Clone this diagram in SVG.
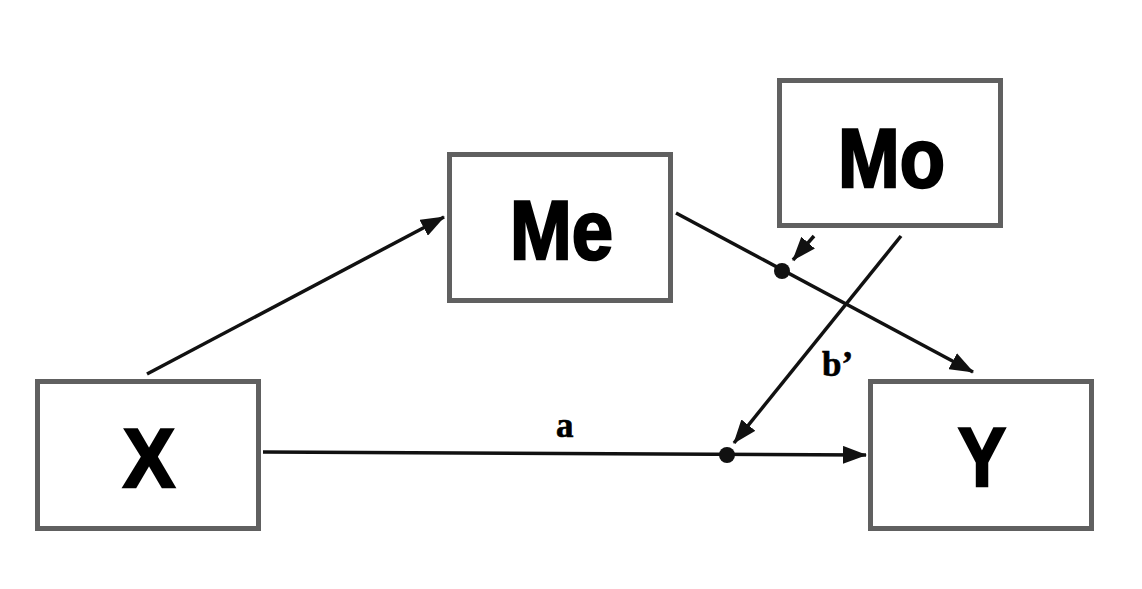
<svg xmlns="http://www.w3.org/2000/svg" width="1142" height="589" viewBox="0 0 1142 589">
<style>
.box{fill:#fff;stroke:#606060;stroke-width:5}
.big{font-family:"Liberation Sans",Arial,sans-serif;font-weight:bold;font-size:84px;fill:#000;stroke:#000;stroke-width:2.5}
.lbl{font-family:"Liberation Serif","Times New Roman",serif;font-weight:bold;font-size:35px;fill:#000;stroke:#000;stroke-width:0.6}
.ln{stroke:#111;stroke-width:3.5;fill:none}
</style>
<defs>
<marker id="ah" viewBox="0 0 24 18" refX="23" refY="9" markerWidth="24" markerHeight="18" markerUnits="userSpaceOnUse" orient="auto">
<path d="M0,0 L24,9 L0,18 Z" fill="#111"/>
</marker>
</defs>
<rect width="1142" height="589" fill="#fff"/>
<g id="connectors">
<line class="ln" x1="147" y1="374" x2="444" y2="217" marker-end="url(#ah)"/>
<line class="ln" x1="676" y1="213" x2="973" y2="372" marker-end="url(#ah)"/>
<line class="ln" x1="263" y1="452" x2="866" y2="455" marker-end="url(#ah)"/>
<line class="ln" x1="814" y1="236" x2="793" y2="260" marker-end="url(#ah)"/>
<line class="ln" x1="901" y1="236" x2="734" y2="443" marker-end="url(#ah)"/>
<circle cx="782" cy="271" r="8" fill="#111"/>
<circle cx="727" cy="455" r="8" fill="#111"/>
<text class="lbl" x="556" y="437">a</text>
<text class="lbl" x="822" y="376">b’</text>
</g>
<g id="node-x">
<rect class="box" x="37.5" y="381.5" width="221" height="147"/>
<text class="big" x="123" y="487" textLength="52" lengthAdjust="spacingAndGlyphs">X</text>
</g>
<g id="node-me">
<rect class="box" x="449.5" y="154.5" width="221" height="146"/>
<text class="big" x="510" y="259" textLength="103" lengthAdjust="spacingAndGlyphs">Me</text>
</g>
<g id="node-mo">
<rect class="box" x="779.5" y="80.5" width="221" height="145"/>
<text class="big" x="838" y="187" textLength="107" lengthAdjust="spacingAndGlyphs">Mo</text>
</g>
<g id="node-y">
<rect class="box" x="870.5" y="381.5" width="221" height="147"/>
<text class="big" x="958" y="486" textLength="48" lengthAdjust="spacingAndGlyphs">Y</text>
</g>
</svg>
